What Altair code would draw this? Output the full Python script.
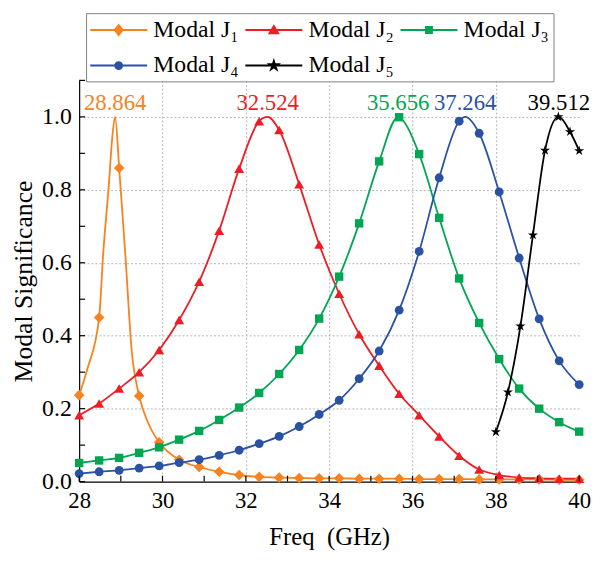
import altair as alt
import pandas as pd

# ---------------- data ----------------
series_names = ["Modal J₁", "Modal J₂", "Modal J₃", "Modal J₄", "Modal J₅"]
colors = ["#F7821E", "#EE1C25", "#00A651", "#2A52A4", "#000000"]

marker_freq = [28.00, 28.48, 28.96, 29.44, 29.92, 30.40, 30.88, 31.36, 31.84, 32.32,
               32.80, 33.28, 33.76, 34.24, 34.72, 35.20, 35.68, 36.16, 36.64, 37.12,
               37.60, 38.08, 38.56, 39.04, 39.52, 40.00]

j1_vals = [0.237, 0.450, 0.860, 0.235, 0.108, 0.060, 0.040, 0.027, 0.018, 0.013,
           0.011, 0.010, 0.009, 0.009, 0.008, 0.008, 0.008, 0.007, 0.007, 0.007,
           0.006, 0.006, 0.006, 0.006, 0.005, 0.005]
j2_vals = [0.182, 0.214, 0.255, 0.300, 0.361, 0.443, 0.548, 0.688, 0.858, 0.988,
           0.964, 0.815, 0.650, 0.515, 0.404, 0.318, 0.241, 0.182, 0.124, 0.071,
           0.033, 0.018, 0.011, 0.009, 0.008, 0.008]
j3_vals = [0.051, 0.058, 0.065, 0.079, 0.094, 0.115, 0.139, 0.169, 0.203, 0.243,
           0.295, 0.361, 0.447, 0.562, 0.708, 0.878, 0.999, 0.898, 0.723, 0.557,
           0.435, 0.336, 0.255, 0.200, 0.163, 0.137]
j4_vals = [0.022, 0.027, 0.031, 0.037, 0.043, 0.052, 0.060, 0.072, 0.086, 0.104,
           0.124, 0.151, 0.184, 0.223, 0.282, 0.358, 0.470, 0.631, 0.833, 0.988,
           0.955, 0.794, 0.613, 0.446, 0.331, 0.266]

j5_freq = [38.00, 38.29, 38.59, 38.89, 39.18, 39.50, 39.78, 40.00]
j5_vals = [0.136, 0.245, 0.426, 0.676, 0.908, 1.000, 0.959, 0.907]

# extra points (between markers)
j1_extra_freq = [28.20, 28.58, 28.71, 28.80, 28.864, 29.11, 29.26, 29.66]
j1_extra_vals = [0.310, 0.630, 0.810, 0.950, 1.000, 0.620, 0.360, 0.160]
j2_extra_freq = [32.524]
j2_extra_vals = [1.000]
j3_extra_freq = [35.656]
j3_extra_vals = [1.000]
j4_extra_freq = [37.264]
j4_extra_vals = [1.000]
j5_extra_freq = [39.512]
j5_extra_vals = [1.000]

peak_freq = [28.864, 32.524, 35.656, 37.264, 39.512]
peak_vals = [1.0, 1.0, 1.0, 1.0, 1.0]
peak_text = ["28.864", "32.524", "35.656", "37.264", "39.512"]

x_major = [28, 30, 32, 34, 36, 38, 40]
x_minor = [28, 29, 30, 31, 32, 33, 34, 35, 36, 37, 38, 39, 40]
y_major = [0.0, 0.2, 0.4, 0.6, 0.8, 1.0]
y_minor = [0.0, 0.1, 0.2, 0.3, 0.4, 0.5, 0.6, 0.7, 0.8, 0.9, 1.0, 1.1]

# ---------------- tables ----------------
marker_tables = []
for name, vals in zip(series_names[:4], [j1_vals, j2_vals, j3_vals, j4_vals]):
    marker_tables.append(pd.DataFrame({"series": name, "freq": marker_freq, "value": vals}))
marker_tables.append(pd.DataFrame({"series": series_names[4], "freq": j5_freq, "value": j5_vals}))

extras = [(j1_extra_freq, j1_extra_vals), (j2_extra_freq, j2_extra_vals),
          (j3_extra_freq, j3_extra_vals), (j4_extra_freq, j4_extra_vals),
          (j5_extra_freq, j5_extra_vals)]
line_parts = list(marker_tables)
for name, (fs, vs) in zip(series_names, extras):
    line_parts.append(pd.DataFrame({"series": name, "freq": fs, "value": vs}))
lines = pd.concat(line_parts, ignore_index=True).sort_values(["series", "freq"])

peaks = pd.DataFrame({"series": series_names, "freq": peak_freq,
                      "value": peak_vals, "label": peak_text})
xticks = pd.DataFrame({"freq": x_minor})
yticks = pd.DataFrame({"value": y_minor})

# ---------------- styling ----------------
FONT = "Times New Roman, Liberation Serif, DejaVu Serif, serif"
W, H = 506, 406
STAR = ("M0,-1L0.2245,-0.309L0.951,-0.309L0.3633,0.118L0.5878,0.809L0,0.382"
        "L-0.5878,0.809L-0.3633,0.118L-0.951,-0.309L-0.2245,-0.309Z")
point_shapes = ["diamond", "triangle-up", "square", "circle", STAR]
point_sizes = [115, 100, 72, 80, 115]

# legend symbols: a line with a small marker in the middle
LINE = "M-2.4,0H2.4"
leg_paths = [
    LINE + "M0,-0.42L0.33,0L0,0.42L-0.33,0Z",
    LINE + "M0,-0.33L0.36,0.27L-0.36,0.27Z",
    LINE + "M-0.25,-0.25H0.25V0.25H-0.25Z",
    LINE + "M0.29,0A0.29,0.29,0,1,1,-0.29,0A0.29,0.29,0,1,1,0.29,0Z",
    LINE + "M0,-0.375L0.084,-0.116L0.357,-0.116L0.136,0.044L0.22,0.303L0,0.143"
           "L-0.22,0.303L-0.136,0.044L-0.357,-0.116L-0.084,-0.116Z",
]
shape_expr = ""
for name, p in zip(series_names[:-1], leg_paths[:-1]):
    shape_expr += f"datum.value == '{name}' ? '{p}' : "
shape_expr += f"'{leg_paths[-1]}'"

color_scale = alt.Scale(domain=series_names, range=colors)
x_scale = alt.Scale(domain=[28, 40], nice=False, zero=False)
y_scale = alt.Scale(domain=[0, 1.1], nice=False, zero=True)

grid_hide_x = {"condition": {"test": "datum.value <= 28 || datum.value >= 40", "value": 0}, "value": 1}
grid_hide_y = {"condition": {"test": "datum.value <= 0", "value": 0}, "value": 1}

legend = alt.Legend(
    title=None, orient="none", legendX=7, legendY=-68,
    columns=3, direction="horizontal",
    symbolType=alt.ExprRef(expr=shape_expr),
    symbolSize=576, symbolStrokeWidth=2, symbolOffset=16,
    symbolStrokeColor=alt.ExprRef(expr="scale('color', datum.value)"),
    symbolFillColor=alt.ExprRef(expr="scale('color', datum.value)"),
    labelFont=FONT, labelFontSize=24, labelColor="black",
    labelOffset=22, labelLimit=0,
    columnPadding=2, rowPadding=11, padding=4,
    strokeColor="#808080", fillColor="white",
)

line_layer = alt.Chart(lines).mark_line(interpolate="monotone", strokeWidth=1.8).encode(
    x=alt.X("freq:Q", scale=x_scale,
            axis=alt.Axis(orient="bottom", values=x_major, title="Freq\u2002(GHz)",
                          ticks=False, tickSize=0, grid=True, gridDash=[2, 2],
                          gridColor="#b5b5b5", gridOpacity=grid_hide_x,
                          labelFontSize=23, titleFontSize=25, labelPadding=8,
                          titlePadding=13, labelFlush=False, domainColor="black",
                          domainWidth=1.2, format="d")),
    y=alt.Y("value:Q", scale=y_scale,
            axis=alt.Axis(orient="left", values=y_major, title="Modal Significance",
                          ticks=False, tickSize=0, grid=True, gridDash=[2, 2],
                          gridColor="#b5b5b5", gridOpacity=grid_hide_y,
                          labelFontSize=24, titleFontSize=26, labelPadding=8,
                          titlePadding=5, format=".1f", domainColor="black",
                          domainWidth=1.2)),
    color=alt.Color("series:N", scale=color_scale, legend=legend),
    detail="series:N",
)

point_layers = []
for tbl, shp, sz in zip(marker_tables, point_shapes, point_sizes):
    point_layers.append(
        alt.Chart(tbl).mark_point(filled=True, opacity=1, strokeWidth=0, shape=shp, size=sz).encode(
            x=alt.X("freq:Q", scale=x_scale),
            y=alt.Y("value:Q", scale=y_scale),
            color=alt.Color("series:N", scale=color_scale, legend=None),
        )
    )

text_layer = alt.Chart(peaks).mark_text(font=FONT, fontSize=23, baseline="alphabetic",
                                        align="center", dy=-7).encode(
    x=alt.X("freq:Q", scale=x_scale),
    y=alt.Y("value:Q", scale=y_scale),
    text="label:N",
    color=alt.Color("series:N", scale=color_scale, legend=None),
)

# inward-pointing axis ticks
xtick_layer = alt.Chart(xticks).mark_rule(color="black", strokeWidth=1.2).encode(
    x=alt.X("freq:Q", scale=x_scale),
    y=alt.value(H), y2=alt.value(H - 6),
)
ytick_layer = alt.Chart(yticks).mark_rule(color="black", strokeWidth=1.2).encode(
    y=alt.Y("value:Q", scale=y_scale),
    x=alt.value(0), x2=alt.value(6),
)

chart = alt.layer(line_layer, *point_layers, text_layer, xtick_layer, ytick_layer).properties(
    width=W, height=H,
    autosize=alt.AutoSizeParams(type="none"),
    padding={"left": 72, "top": 70, "right": 16, "bottom": 69},
).configure(
    font=FONT,
).configure_axis(
    labelFont=FONT, titleFont=FONT, labelColor="black", titleColor="black",
    titleFontWeight="normal",
).configure_view(stroke=None)

chart.save("out.html", embed_options={"renderer": "svg", "actions": False})
